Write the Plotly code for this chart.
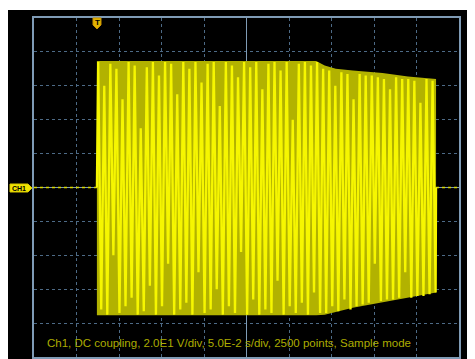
import numpy as np
import plotly.graph_objects as go

t_start, t_end = -0.176, 0.223          # burst start / end (s, relative to screen centre)
env_t  = [-0.176, 0.082, 0.092, 0.105, 0.125, 0.160, 0.190, 0.223]
env_hi = [74.7, 74.7, 72.0, 70.0, 69.0, 67.5, 65.5, 64.0]
env_lo = [-75.3, -75.3, -75.0, -73.5, -71.0, -67.5, -65.0, -62.0]

peaks = [
    74, -72, 60, -75, 73, -40, 70, -74, 52, -70,
    74, -65, 72, -75, 35, -73, 71, -58, 74, -75,
    66, -70, 74, -45, 73, -75, 55, -72, 74, -68,
    70, -75, 74, -50, 62, -74, 73, -72, 74, -60,
    48, -75, 74, -70, 72, -74, 65, -38, 74, -75,
    71, -66, 74, -75, 58, -72, 73, -74, 74, -55,
    69, -75, 74, -70, 40, -74, 73, -68, 74, -75,
    72, -62, 74, -74,
    70, -74, 69, -70, 60, -73, 68, -66, 67, -72,
    52, -70, 67, -69, 66, -68, 66, -45, 65, -67,
    64, -66, 58, -66, 65, -65, 64, -50, 64, -65,
    63, -64, 50, -64, 64, -63, 63, -62,
]
info_text = "Ch1, DC coupling, 2.0E1 V/div, 5.0E-2 s/div, 2500 points, Sample mode"

# ---- layout geometry (figure pixels; page adds an 8 px body margin) ----
W, H = 467, 351
L, R, T, B = 26, 451, 10, 349


def px(x):
    return (x - L) / (R - L)


def py(y):
    return (B - y) / (B - T)


def path(pts):
    return "M " + " L ".join(f"{px(a):.5f},{py(b):.5f}" for a, b in pts) + " Z"


peak_t = list(np.linspace(t_start + 0.0015, t_end - 0.0005, len(peaks)))

fig = go.Figure()

# dim band (overlapping trace intensity)
fig.add_trace(go.Scatter(
    x=env_t + env_t[::-1], y=env_hi + env_lo[::-1],
    fill="toself", fillcolor="#b2b200", line=dict(width=0),
    mode="lines", hoverinfo="skip", showlegend=False))

# baseline before / after burst
fig.add_trace(go.Scatter(x=[-0.25, t_start], y=[0, 0], mode="lines",
                         line=dict(color="#d8d800", width=1.5, dash="dot"),
                         showlegend=False))
fig.add_trace(go.Scatter(x=[t_end, 0.25], y=[0, 0], mode="lines",
                         line=dict(color="#d8d800", width=1.5, dash="dot"),
                         showlegend=False))

# bright trace
fig.add_trace(go.Scatter(
    x=[t_start] + peak_t + [t_end], y=[0] + peaks + [0],
    mode="lines", line=dict(color="#f6f600", width=2.3),
    showlegend=False))

grid = dict(showgrid=True, gridcolor="#4d6a86", gridwidth=1, griddash="dot",
            zeroline=True, zerolinecolor="#7f9bb5", zerolinewidth=1,
            showline=True, linecolor="#7f9bb5", linewidth=1.5, mirror=True,
            showticklabels=False, ticks="", fixedrange=True)

fig.update_layout(
    width=W, height=H,
    margin=dict(l=L, r=W - R, t=T, b=H - B, pad=0),
    paper_bgcolor="black", plot_bgcolor="black",
    xaxis=dict(range=[-0.25, 0.25], dtick=0.05, tick0=0, **grid),
    yaxis=dict(range=[-100, 100], dtick=20, tick0=0, **grid),
    shapes=[
        dict(type="rect", xref="paper", yref="paper", layer="below",
             x0=px(-2), x1=px(W + 2), y0=py(2), y1=py(-2),
             fillcolor="white", line=dict(width=0)),
        dict(type="path", xref="paper", yref="paper",
             path=path([(85, 10), (93, 10), (93, 17), (89, 21), (85, 17)]),
             fillcolor="#e2b400", line=dict(color="#c89000", width=1)),
        dict(type="path", xref="paper", yref="paper",
             path=path([(2, 176), (20, 176), (24, 180), (20, 184), (2, 184)]),
             fillcolor="#f0e400", line=dict(color="#d8c800", width=1)),
    ],
    annotations=[
        dict(text=info_text, xref="paper", yref="paper", x=px(37), y=py(335),
             xanchor="left", yanchor="middle", showarrow=False,
             font=dict(family="Liberation Sans, Arial", size=11.5, color="#adad00")),
        dict(text="<b>T</b>", xref="paper", yref="paper", x=px(89), y=py(14.5),
             xanchor="center", yanchor="middle", showarrow=False,
             font=dict(family="Liberation Sans, Arial", size=8, color="black")),
        dict(text="<b>CH1</b>", xref="paper", yref="paper", x=px(11), y=py(180),
             xanchor="center", yanchor="middle", showarrow=False,
             font=dict(family="Liberation Sans, Arial", size=7, color="black")),
    ],
)

fig.write_html("out.html")
